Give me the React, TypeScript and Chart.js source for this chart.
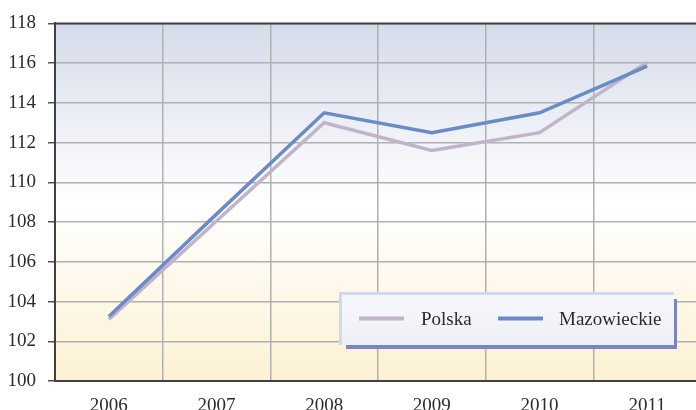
import React, { useEffect, useRef } from "react";
import { Chart, registerables } from "chart.js";

Chart.register(...registerables);

const years = ["2006", "2007", "2008", "2009", "2010", "2011"];
const polska = [103.1, 108.05, 113.0, 111.6, 112.5, 116.05];
const mazowieckie = [103.25, 108.4, 113.5, 112.5, 113.5, 115.85];
const yMin = 100;
const yMax = 118;
const yStep = 2;

const FONT = '"Liberation Serif", "Times New Roman", serif';
const POLSKA_COLOR = "#c0b4c9";
const MAZ_COLOR = "#6a8bc8";

const bgPlugin = {
  id: "bgGradient",
  beforeDraw(chart: any) {
    const { ctx, chartArea } = chart;
    const { left, top, right, bottom } = chartArea;
    const g = ctx.createLinearGradient(0, top, 0, bottom);
    g.addColorStop(0, "#d5dbea");
    g.addColorStop(0.5, "#ffffff");
    g.addColorStop(1, "#fcf1d3");
    ctx.save();
    ctx.fillStyle = g;
    ctx.fillRect(left, top, right - left, bottom - top);
    ctx.restore();
  },
  afterDraw(chart: any) {
    const { ctx, chartArea } = chart;
    ctx.save();
    // top border
    ctx.strokeStyle = "#404040";
    ctx.lineWidth = 2;
    ctx.beginPath();
    ctx.moveTo(chartArea.left - 1, chartArea.top);
    ctx.lineTo(chartArea.right, chartArea.top);
    ctx.stroke();

    // legend
    const bx = 339, by = 292, bw = 335, bh = 53;
    ctx.fillStyle = "#7b86c0";
    ctx.fillRect(346, 299, 331, 50);
    ctx.fillStyle = "#d2d9ea";
    ctx.fillRect(bx, by, bw, bh);
    const lg = ctx.createLinearGradient(0, by, 0, by + bh);
    lg.addColorStop(0, "#f7f8fc");
    lg.addColorStop(1, "#eef0f7");
    ctx.fillStyle = lg;
    ctx.fillRect(bx + 3, by + 3, bw - 3, bh - 3);

    const ds = chart.data.datasets;
    const items = [
      { x: 359, tx: 421, d: ds[0] },
      { x: 498, tx: 559, d: ds[1] },
    ];
    ctx.font = "19px " + FONT;
    ctx.textBaseline = "middle";
    ctx.textAlign = "left";
    for (const it of items) {
      ctx.strokeStyle = it.d.borderColor;
      ctx.lineWidth = 4;
      ctx.beginPath();
      ctx.moveTo(it.x, 318.5);
      ctx.lineTo(it.x + 45, 318.5);
      ctx.stroke();
      ctx.fillStyle = "#2a2a2a";
      ctx.fillText(it.d.label, it.tx, 320);
    }
    ctx.restore();
  },
};

export default function App() {
  const ref = useRef<HTMLCanvasElement | null>(null);

  useEffect(() => {
    if (!ref.current) return;
    const chart = new Chart(ref.current, {
      type: "line",
      data: {
        labels: years,
        datasets: [
          {
            label: "Polska",
            data: polska,
            borderColor: POLSKA_COLOR,
            backgroundColor: POLSKA_COLOR,
            borderWidth: 3.5,
            pointRadius: 0,
            tension: 0,
            order: 1,
          },
          {
            label: "Mazowieckie",
            data: mazowieckie,
            borderColor: MAZ_COLOR,
            backgroundColor: MAZ_COLOR,
            borderWidth: 3.5,
            pointRadius: 0,
            tension: 0,
            order: 0,
          },
        ],
      },
      options: {
        responsive: false,
        animation: false,
        devicePixelRatio: 1,
        layout: { padding: { top: 22, right: 2, left: 0, bottom: 0 } },
        plugins: {
          legend: { display: false },
          tooltip: { enabled: false },
        },
        scales: {
          x: {
            type: "category",
            offset: true,
            afterFit: (s: any) => {
              s.height = 35;
            },
            grid: {
              offset: true,
              color: "#b0b0b0",
              lineWidth: 1.5,
              drawTicks: false,
            },
            border: { color: "#404040", width: 2 },
            ticks: {
              color: "#2a2a2a",
              font: { family: FONT, size: 19 },
              padding: 14,
              maxRotation: 0,
            },
          },
          y: {
            min: yMin,
            max: yMax,
            afterFit: (s: any) => {
              s.width = 55;
            },
            grid: {
              color: "#b0b0b0",
              lineWidth: 1.5,
              drawTicks: true,
              tickLength: 7,
              tickColor: "#505050",
            },
            border: { color: "#404040", width: 2 },
            ticks: {
              stepSize: yStep,
              color: "#2a2a2a",
              font: { family: FONT, size: 19 },
              padding: 12,
            },
          },
        },
      },
      plugins: [bgPlugin],
    });
    return () => chart.destroy();
  }, []);

  return (
    <div
      style={{
        position: "fixed",
        left: 0,
        top: 0,
        width: 696,
        height: 410,
        overflow: "hidden",
        background: "#ffffff",
      }}
    >
      <canvas ref={ref} width={703} height={416} style={{ display: "block" }} />
    </div>
  );
}
